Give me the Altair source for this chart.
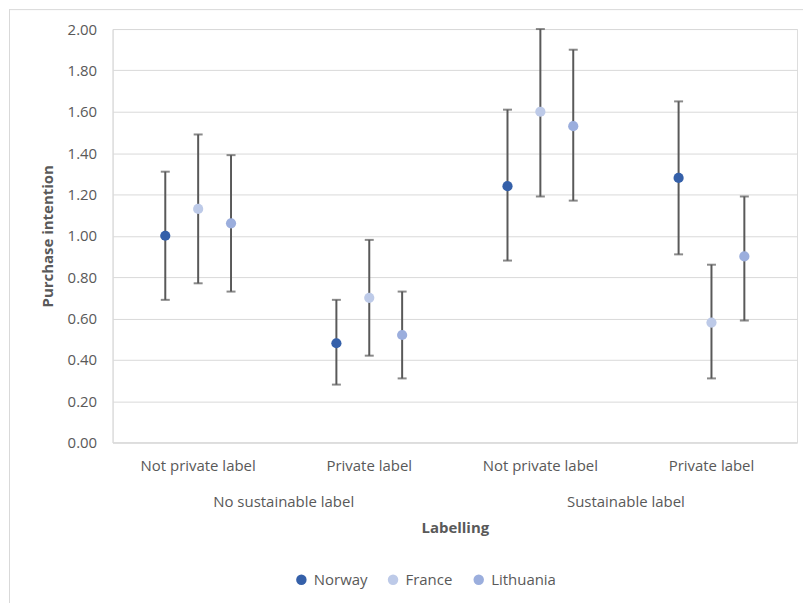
import altair as alt
import pandas as pd

# ---- data ----
sustainable = ["No sustainable label", "No sustainable label", "Sustainable label", "Sustainable label"]
private = ["Not private label", "Private label", "Not private label", "Private label"]
groups = ["No sustainable label", "Sustainable label"]
countries = ["Norway", "France", "Lithuania"]
colors = ["#3560A9", "#BDCAE8", "#9BAEDD"]
y_ticks = [0.0, 0.2, 0.4, 0.6, 0.8, 1.0, 1.2, 1.4, 1.6, 1.8, 2.0]

norway_mean = [1.00, 0.48, 1.24, 1.28]
norway_low = [0.69, 0.28, 0.88, 0.91]
norway_high = [1.31, 0.69, 1.61, 1.65]

france_mean = [1.13, 0.70, 1.60, 0.58]
france_low = [0.77, 0.42, 1.19, 0.31]
france_high = [1.49, 0.98, 2.00, 0.86]

lithuania_mean = [1.06, 0.52, 1.53, 0.90]
lithuania_low = [0.73, 0.31, 1.17, 0.59]
lithuania_high = [1.39, 0.73, 1.90, 1.19]

cells = [s + "|" + p for s, p in zip(sustainable, private)]

rows = []
for c, m, lo, hi in zip(countries,
                        [norway_mean, france_mean, lithuania_mean],
                        [norway_low, france_low, lithuania_low],
                        [norway_high, france_high, lithuania_high]):
    for cell, g, mv, l, h in zip(cells, sustainable, m, lo, hi):
        rows.append({"cell": cell, "group": g, "country": c, "mean": mv, "low": l, "high": h})
df = pd.DataFrame(rows)
gdf = pd.DataFrame({"group": groups})

W, H = 687, 415
FONT = "Open Sans"
TXT = "#595959"
GRID = "#D9D9D9"
ERR = "#595959"

band = W / len(cells)
spread = 33  # pixel spacing between countries inside a category

x_axis = alt.Axis(title="Labelling", labelExpr="split(datum.label, '|')[1]", labelAngle=0,
                  ticks=False, domain=True, domainColor=GRID, domainWidth=1, grid=False,
                  labelPadding=16, titlePadding=47, labelFontSize=15, labelColor=TXT,
                  titleFontSize=15, titleColor=TXT, titleFontWeight="bold",
                  labelFont=FONT, titleFont=FONT)
x_enc = alt.X("cell:N", sort=cells,
              scale=alt.Scale(type="band", domain=cells, paddingInner=0, paddingOuter=0),
              axis=x_axis)
xo_enc = alt.XOffset("country:N", sort=countries,
                     scale=alt.Scale(type="point", domain=countries, padding=0,
                                     range=[band / 2 - spread, band / 2 + spread]))

y_axis = alt.Axis(title="Purchase intention", values=y_ticks, format=".2f", grid=True,
                  gridColor=GRID, gridWidth=1, ticks=False, domain=True, domainColor=GRID,
                  labelPadding=16, titlePadding=12, labelFontSize=15, labelColor=TXT,
                  titleFontSize=15, titleColor=TXT, titleFontWeight="bold",
                  labelFont=FONT, titleFont=FONT)
y_scale = alt.Scale(domain=[0, 2], nice=False)

base = alt.Chart(df)

rules = base.mark_rule(color=ERR, strokeWidth=2).encode(
    x=x_enc, xOffset=xo_enc,
    y=alt.Y("low:Q", scale=y_scale, axis=y_axis),
    y2="high:Q",
)
cap_low = base.mark_tick(color=ERR, size=9, thickness=2).encode(
    x=x_enc, xOffset=xo_enc, y=alt.Y("low:Q", scale=y_scale, axis=y_axis),
)
cap_high = base.mark_tick(color=ERR, size=9, thickness=2).encode(
    x=x_enc, xOffset=xo_enc, y=alt.Y("high:Q", scale=y_scale, axis=y_axis),
)
points = base.mark_circle(size=105, opacity=1).encode(
    x=x_enc, xOffset=xo_enc,
    y=alt.Y("mean:Q", scale=y_scale, axis=y_axis),
    color=alt.Color("country:N", sort=countries,
                    scale=alt.Scale(domain=countries, range=colors),
                    legend=alt.Legend(orient="none", legendX=182, legendY=545,
                                      direction="horizontal", title=None,
                                      symbolType="circle", symbolSize=110,
                                      symbolStrokeWidth=0, labelFontSize=15,
                                      labelColor=TXT, labelFont=FONT,
                                      columnPadding=18, labelOffset=5)),
)

data_layers = alt.layer(rules, cap_low, cap_high, points)

group_text = alt.Chart(gdf).mark_text(font=FONT, fontSize=15, color=TXT, baseline="middle").encode(
    x=alt.X("group:N", sort=groups,
            scale=alt.Scale(type="point", domain=groups, padding=0.5), axis=None),
    y=alt.value(H + 60),
    text="group:N",
)

frame_df = pd.DataFrame({"k": [0]})
left_border = alt.Chart(frame_df).mark_rule(color=GRID, strokeWidth=1).encode(
    x=alt.value(-103.5), y=alt.value(-20), y2=alt.value(H + 170))
top_border = alt.Chart(frame_df).mark_rule(color=GRID, strokeWidth=1).encode(
    x=alt.value(-103.5), x2=alt.value(W + 20), y=alt.value(-19.5))

chart = alt.layer(left_border, top_border, data_layers, group_text).resolve_scale(
    x="independent"
).properties(
    width=W, height=H,
    autosize=alt.AutoSizeParams(type="none"),
    padding={"left": 105, "top": 20, "right": 6, "bottom": 160},
).configure_view(stroke=None).configure(font=FONT)

chart.save("out.html", embed_options={"renderer": "svg", "actions": False})
